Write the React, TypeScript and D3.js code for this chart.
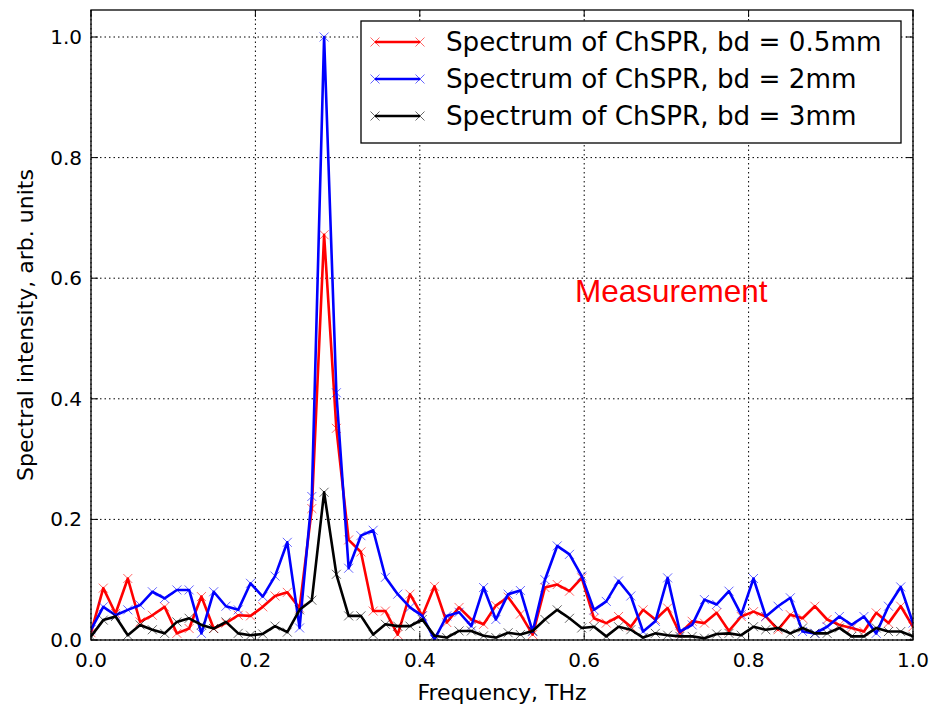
import React from "react";
import * as d3 from "d3";

const STEP = 1 / 67;
const redValues = [0.012,0.086,0.044,0.102,0.030,0.041,0.055,0.011,0.019,0.072,0.019,0.028,0.041,0.040,0.055,0.073,0.079,0.053,0.218,0.672,0.351,0.166,0.146,0.048,0.048,0.009,0.076,0.040,0.089,0.029,0.054,0.034,0.026,0.057,0.071,0.043,0.009,0.087,0.092,0.081,0.103,0.036,0.028,0.039,0.022,0.050,0.034,0.053,0.011,0.031,0.028,0.045,0.015,0.039,0.047,0.039,0.017,0.042,0.036,0.056,0.034,0.025,0.020,0.014,0.045,0.028,0.056,0.022];
const blueValues = [0.017,0.055,0.041,0.050,0.058,0.080,0.069,0.083,0.083,0.011,0.080,0.056,0.050,0.094,0.072,0.106,0.162,0.020,0.238,1.0,0.41,0.119,0.173,0.182,0.104,0.076,0.054,0.040,0.001,0.040,0.046,0.023,0.087,0.034,0.076,0.082,0.014,0.100,0.156,0.142,0.106,0.050,0.064,0.098,0.073,0.014,0.031,0.103,0.014,0.025,0.067,0.059,0.081,0.042,0.102,0.039,0.056,0.070,0.014,0.011,0.022,0.039,0.025,0.039,0.011,0.056,0.088,0.028];
const blackValues = [0.006,0.033,0.039,0.008,0.025,0.017,0.011,0.030,0.036,0.025,0.019,0.030,0.011,0.008,0.010,0.023,0.013,0.050,0.066,0.245,0.109,0.040,0.040,0.009,0.026,0.023,0.023,0.034,0.007,0.004,0.015,0.015,0.007,0.004,0.012,0.009,0.015,0.034,0.050,0.036,0.020,0.022,0.006,0.022,0.017,0.004,0.011,0.008,0.006,0.006,0.003,0.010,0.011,0.008,0.022,0.017,0.020,0.011,0.020,0.011,0.011,0.020,0.006,0.006,0.020,0.014,0.014,0.006];

const xTicks = [0.0, 0.2, 0.4, 0.6, 0.8, 1.0];
const yTicks = [0.0, 0.2, 0.4, 0.6, 0.8, 1.0];
const seriesNames = ["Spectrum of ChSPR, bd = 0.5mm", "Spectrum of ChSPR, bd = 2mm", "Spectrum of ChSPR, bd = 3mm"];
const seriesColors = ["#ff0000", "#0000ff", "#000000"];
const seriesData = [redValues, blueValues, blackValues];

const FONT = "DejaVu Sans, sans-serif";

export default function App() {
  const W = 930, H = 707;
  const L = 91, R = 913, T = 10, B = 640;
  const x = d3.scaleLinear().domain([0, 1]).range([L, R]);
  const y = d3.scaleLinear().domain([0, (B - T) / 603]).range([B, T]);
  const line = d3.line<number>().x((_, i) => x(i * STEP)).y((d) => y(d));
  const ms = 4.5;
  const cross = (cx: number, cy: number) => `M${cx - ms},${cy - ms}L${cx + ms},${cy + ms}M${cx - ms},${cy + ms}L${cx + ms},${cy - ms}`;

  return (
    <svg width={W} height={H} style={{ position: "absolute", left: 0, top: 0, background: "#fff" }}>
      <rect x={0} y={0} width={W} height={H} fill="#fff" />
      <defs>
        <clipPath id="plotclip"><rect x={L} y={T} width={R - L} height={B - T} /></clipPath>
      </defs>
      {xTicks.map((t) => (
        <line key={"gx" + t} x1={x(t)} x2={x(t)} y1={T} y2={B} stroke="#000" strokeWidth={1} strokeDasharray="1.5,3" />
      ))}
      {yTicks.map((t) => (
        <line key={"gy" + t} x1={L} x2={R} y1={y(t)} y2={y(t)} stroke="#000" strokeWidth={1} strokeDasharray="1.5,3" />
      ))}
      <g clipPath="url(#plotclip)">
        {seriesData.map((vals, si) => (
          <g key={"s" + si}>
            <path d={line(vals) || ""} fill="none" stroke={seriesColors[si]} strokeWidth={2.6} strokeLinejoin="round" />
            <path d={vals.map((v, i) => cross(x(i * STEP), y(v))).join("")} fill="none" stroke={seriesColors[si]} strokeWidth={1} strokeOpacity={0.6} />
          </g>
        ))}
      </g>
      {xTicks.map((t) => (
        <g key={"tx" + t}>
          <line x1={x(t)} x2={x(t)} y1={B} y2={B - 7} stroke="#000" strokeWidth={1} />
          <line x1={x(t)} x2={x(t)} y1={T} y2={T + 7} stroke="#000" strokeWidth={1} />
          <text x={x(t)} y={667} textAnchor="middle" fontFamily={FONT} fontSize={20} fill="#000">{t.toFixed(1)}</text>
        </g>
      ))}
      {yTicks.map((t) => (
        <g key={"ty" + t}>
          <line x1={L} x2={L + 7} y1={y(t)} y2={y(t)} stroke="#000" strokeWidth={1} />
          <line x1={R} x2={R - 7} y1={y(t)} y2={y(t)} stroke="#000" strokeWidth={1} />
          <text x={L - 9} y={y(t) + 7} textAnchor="end" fontFamily={FONT} fontSize={20} fill="#000">{t.toFixed(1)}</text>
        </g>
      ))}
      <rect x={L} y={T} width={R - L} height={B - T} fill="none" stroke="#000" strokeWidth={1.3} />
      <text x={(L + R) / 2} y={700} textAnchor="middle" fontFamily={FONT} fontSize={22} fill="#000">Frequency, THz</text>
      <text transform={`translate(33,${(T + B) / 2}) rotate(-90)`} textAnchor="middle" fontFamily={FONT} fontSize={22} fill="#000">Spectral intensity, arb. units</text>
      <text x={575} y={302} textAnchor="start" fontFamily="Liberation Sans, Arial, sans-serif" fontSize={31.5} fill="#ff0000">Measurement</text>
      <rect x={361} y={21} width={540} height={122} fill="#fff" stroke="#000" strokeWidth={1.3} />
      {seriesNames.map((name, si) => {
        const ly = 42 + si * 37;
        return (
          <g key={"lg" + si}>
            <line x1={375} x2={420} y1={ly} y2={ly} stroke={seriesColors[si]} strokeWidth={2.6} />
            <path d={cross(375, ly) + cross(420, ly)} fill="none" stroke={seriesColors[si]} strokeWidth={1} strokeOpacity={0.6} />
            <text x={446} y={ly + 8.5} fontFamily={FONT} fontSize={26.2} fill="#000">{name}</text>
          </g>
        );
      })}
    </svg>
  );
}
